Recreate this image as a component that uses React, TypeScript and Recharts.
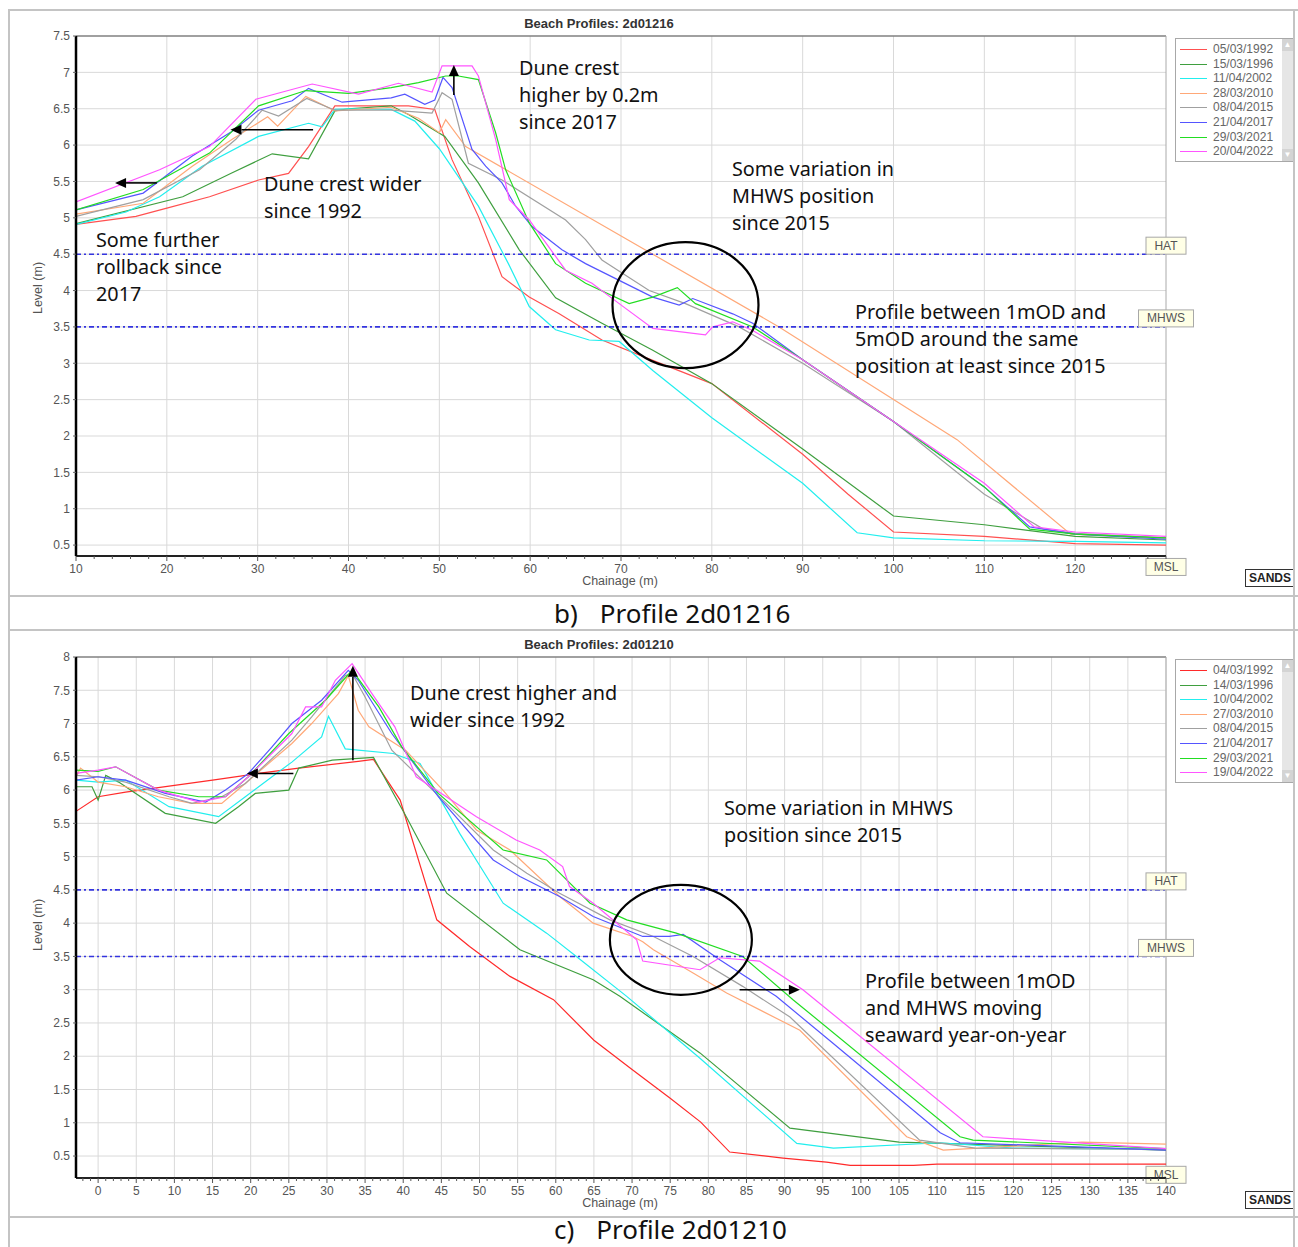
import React from "react";
import { LineChart, Line, XAxis, YAxis, CartesianGrid, ReferenceLine, ReferenceDot } from "recharts";

type Pt = [number, number];

// ---- b) Profile 2d01216 ----
const topDates = ["05/03/1992", "15/03/1996", "11/04/2002", "28/03/2010", "08/04/2015", "21/04/2017", "29/03/2021", "20/04/2022"];
const topColors = ["#ff5050", "#3f9f3f", "#22eeee", "#ffa878", "#a0a0a0", "#5555ff", "#22dd22", "#ff55ff"];

const top1992: Pt[] = [[10, 4.91], [16.6, 5.02], [19.9, 5.13], [24.7, 5.29], [30.1, 5.52], [33.4, 5.61], [35.6, 5.98], [38.5, 6.54], [46.6, 6.54], [49.5, 6.49], [51.4, 5.8], [54.3, 5.02], [56.9, 4.19], [59.9, 3.91], [63.2, 3.68], [67.9, 3.32], [73.5, 3.04], [80, 2.72], [90, 1.75], [95, 1.2], [100, 0.68], [110, 0.62], [120, 0.52], [130, 0.5]];
const top1996: Pt[] = [[10, 4.92], [21.75, 5.29], [27.2, 5.62], [31.6, 5.88], [35.6, 5.81], [38.5, 6.47], [40, 6.5], [44.7, 6.54], [46.6, 6.42], [50.6, 6.12], [54.3, 5.48], [58.8, 4.56], [62.8, 3.9], [67.9, 3.55], [73.5, 3.18], [80, 2.72], [90, 1.82], [100, 0.9], [110, 0.78], [120, 0.62], [130, 0.57]];
const top2002: Pt[] = [[10, 4.91], [15.5, 5.08], [19.2, 5.29], [23.9, 5.71], [30.1, 6.12], [35.6, 6.3], [37.1, 6.25], [38.5, 6.49], [40, 6.5], [44.7, 6.49], [47.3, 6.33], [50, 5.95], [54.3, 5.16], [57.6, 4.37], [59.9, 3.78], [62.8, 3.46], [66.5, 3.32], [69.8, 3.3], [73.5, 2.9], [80, 2.25], [90, 1.35], [96, 0.67], [100, 0.6], [110, 0.56], [120, 0.55], [130, 0.53]];
const top2010: Pt[] = [[10, 5.05], [17.4, 5.2], [22.8, 5.71], [27.2, 6.08], [31.1, 6.39], [32.2, 6.26], [35.3, 6.67], [38.5, 6.47], [44.7, 6.52], [47.7, 6.37], [50, 6.17], [50.7, 6.35], [52.9, 5.98], [87.4, 3.5], [107, 1.95], [119.5, 0.65], [125, 0.62], [130, 0.6]];
const top2015: Pt[] = [[10, 5.02], [17.4, 5.25], [23.6, 5.66], [27.6, 6.08], [30.5, 6.48], [32.3, 6.4], [35.4, 6.64], [38.5, 6.48], [44.7, 6.48], [49.2, 6.44], [50.3, 6.72], [51.4, 6.63], [53.2, 5.75], [56.9, 5.52], [63.9, 4.97], [66.1, 4.7], [67.9, 4.42], [73.1, 4.0], [77.1, 3.82], [83, 3.5], [90, 3.0], [100, 2.2], [110, 1.2], [116.5, 0.72], [120, 0.66], [130, 0.6]];
const top2017: Pt[] = [[10, 5.11], [17.4, 5.34], [22.8, 5.85], [27.2, 6.19], [30.1, 6.48], [33.8, 6.61], [35.6, 6.78], [39.3, 6.59], [44.7, 6.65], [46.2, 6.7], [48.4, 6.56], [49.5, 6.62], [50.4, 6.93], [51.4, 6.79], [53.6, 5.94], [55.1, 5.71], [56.9, 5.48], [58.4, 5.16], [60.2, 4.88], [63.5, 4.56], [66.1, 4.37], [69.8, 4.14], [73.5, 3.91], [76.4, 3.8], [77.9, 3.89], [82.3, 3.68], [84.5, 3.55], [90, 3.05], [100, 2.2], [110, 1.3], [115, 0.75], [120, 0.65], [130, 0.58]];
const top2021: Pt[] = [[10, 5.11], [17.4, 5.39], [24.7, 5.89], [30.1, 6.54], [35.3, 6.75], [40, 6.71], [44.7, 6.79], [47.7, 6.86], [50.7, 6.95], [52.1, 6.95], [54.3, 6.9], [56.2, 6.17], [57.3, 5.66], [59.9, 4.93], [62.8, 4.37], [66.1, 4.1], [70.9, 3.82], [73.5, 3.91], [76.2, 4.04], [78.2, 3.82], [84.5, 3.5], [90, 3.05], [100, 2.2], [110, 1.3], [115, 0.72], [120, 0.65], [130, 0.6]];
const top2022: Pt[] = [[10, 5.22], [19.2, 5.66], [24.7, 5.98], [29.8, 6.63], [36, 6.84], [41.1, 6.7], [45.5, 6.85], [49.2, 6.73], [50.3, 7.09], [53.6, 7.09], [54.3, 6.95], [56.2, 6.08], [57.7, 5.25], [59.9, 4.97], [63.9, 4.28], [66.8, 4.1], [69.8, 3.82], [73.5, 3.48], [79.3, 3.39], [80.1, 3.5], [82.3, 3.57], [84.5, 3.45], [90, 3.05], [100, 2.2], [110, 1.35], [115.5, 0.75], [120, 0.68], [130, 0.62]];
const topSeries = [top1992, top1996, top2002, top2010, top2015, top2017, top2021, top2022];

const topXTicks = [10, 20, 30, 40, 50, 60, 70, 80, 90, 100, 110, 120];
const topXMinor = Array.from({ length: 61 }, (_, i) => 10 + i * 2);
const topYTicks = [0.5, 1, 1.5, 2, 2.5, 3, 3.5, 4, 4.5, 5, 5.5, 6, 6.5, 7, 7.5];

// ---- c) Profile 2d01210 ----
const botDates = ["04/03/1992", "14/03/1996", "10/04/2002", "27/03/2010", "08/04/2015", "21/04/2017", "29/03/2021", "19/04/2022"];
const botColors = ["#ff2a2a", "#3f9f3f", "#22eeee", "#ffa878", "#a0a0a0", "#5555ff", "#22dd22", "#ff55ff"];

const bot1992: Pt[] = [[-2.9, 5.68], [0, 5.9], [3.6, 5.97], [15, 6.15], [21, 6.25], [26.3, 6.33], [34.1, 6.43], [36.1, 6.46], [39.6, 5.85], [44.4, 4.05], [48.7, 3.65], [54, 3.2], [59.7, 2.85], [65, 2.24], [70, 1.8], [75, 1.37], [79, 1.01], [82.8, 0.56], [89.8, 0.47], [95.5, 0.41], [98.6, 0.36], [106.9, 0.36], [110, 0.38], [140, 0.38]];
const bot1996: Pt[] = [[-2.9, 6.05], [-0.8, 6.05], [0, 5.85], [1, 6.22], [2.7, 6.12], [8.8, 5.65], [15.4, 5.5], [18.4, 5.75], [20.6, 5.95], [25, 6.0], [26.3, 6.33], [30.7, 6.45], [36.1, 6.49], [40.4, 5.6], [45.7, 4.45], [55.3, 3.6], [64.9, 3.15], [68.4, 2.9], [78.9, 2.05], [90.7, 0.92], [105, 0.71], [140, 0.59]];
const bot2002: Pt[] = [[-2.9, 6.15], [0, 6.12], [3.6, 6.15], [9.3, 5.75], [15.8, 5.6], [19.3, 5.9], [22.8, 6.2], [25.4, 6.42], [29.3, 6.8], [30.2, 7.11], [32.4, 6.62], [38.7, 6.55], [42.2, 6.4], [47.4, 5.35], [53.1, 4.3], [58.8, 3.85], [62.7, 3.5], [69.3, 2.9], [78.9, 1.97], [91.6, 0.69], [96.4, 0.62], [110.4, 0.7], [120, 0.62], [140, 0.6]];
const bot2010: Pt[] = [[-2.9, 6.2], [-2.3, 6.33], [0, 6.12], [3.6, 6.05], [7.9, 5.9], [12.3, 5.8], [16.2, 5.8], [19.3, 6.1], [25.4, 6.7], [28, 7.0], [31.5, 7.45], [32.8, 7.72], [34.1, 7.2], [35.5, 6.95], [40.3, 6.6], [45.2, 6.0], [49.6, 5.4], [54, 5.1], [60.5, 4.4], [64.9, 4.0], [70.1, 3.8], [71.4, 3.72], [72.8, 3.6], [78, 3.25], [82.4, 2.95], [92, 2.39], [106, 0.79], [110.8, 0.59], [120, 0.65], [129, 0.71], [140, 0.68]];
const bot2015: Pt[] = [[-2.9, 6.22], [0, 6.2], [3.6, 6.12], [9.3, 5.9], [12.3, 5.8], [16.2, 5.9], [19.3, 6.1], [25.4, 6.75], [28, 7.1], [32.4, 7.72], [33.3, 7.75], [35, 7.4], [38.5, 6.6], [45.2, 5.85], [51.8, 5.1], [56.2, 4.75], [60.5, 4.45], [67.1, 4.05], [72.8, 3.8], [78, 3.5], [84.5, 3.05], [90.7, 2.59], [107.7, 0.74], [115, 0.62], [140, 0.6]];
const bot2017: Pt[] = [[-2.9, 6.15], [0, 6.2], [3.6, 6.15], [8.8, 5.95], [14.1, 5.82], [16.7, 6.0], [19.7, 6.25], [22.8, 6.65], [25.4, 7.0], [29.3, 7.35], [32.8, 7.8], [34.1, 7.65], [38.5, 6.85], [44.6, 5.9], [51.8, 4.95], [55.3, 4.7], [60.5, 4.4], [64.9, 4.1], [71.4, 3.8], [74.9, 3.8], [76.7, 3.83], [81.5, 3.45], [88.9, 2.9], [96.3, 2.2], [110.4, 0.85], [113, 0.7], [140, 0.59]];
const bot2021: Pt[] = [[-2.9, 6.3], [0, 6.28], [2.3, 6.35], [7.9, 6.0], [13.2, 5.9], [16.7, 5.9], [19.7, 6.2], [25, 6.85], [29.8, 7.35], [33.3, 7.8], [36.8, 7.25], [39.8, 6.65], [44.6, 5.95], [53.1, 5.1], [58.8, 4.95], [64.5, 4.3], [69.3, 4.05], [75.8, 3.85], [84.5, 3.5], [91.1, 2.85], [113, 0.79], [114.7, 0.74], [140, 0.61]];
const bot2022: Pt[] = [[-2.9, 6.25], [0, 6.3], [2.3, 6.35], [7.9, 6.0], [13.2, 5.82], [16.7, 5.9], [19.7, 6.2], [25.4, 6.85], [27.2, 7.25], [29.3, 7.25], [31.1, 7.65], [33.3, 7.9], [35.9, 7.45], [38.9, 6.95], [41.7, 6.2], [49.6, 5.6], [54.8, 5.25], [57.9, 5.1], [60.9, 4.85], [61.8, 4.55], [64.9, 4.3], [70.6, 3.75], [71.4, 3.43], [78.9, 3.3], [81.5, 3.48], [86.7, 3.43], [92.4, 3.0], [116, 0.79], [140, 0.61]];
const botSeries = [bot1992, bot1996, bot2002, bot2010, bot2015, bot2017, bot2021, bot2022];

const botXTicks = [0, 5, 10, 15, 20, 25, 30, 35, 40, 45, 50, 55, 60, 65, 70, 75, 80, 85, 90, 95, 100, 105, 110, 115, 120, 125, 130, 135, 140];
const botXMinor = Array.from({ length: 143 }, (_, i) => i - 2);
const botYTicks = [0.5, 1, 1.5, 2, 2.5, 3, 3.5, 4, 4.5, 5, 5.5, 6, 6.5, 7, 7.5, 8];

const HAT = 4.5;
const MHWS = 3.5;
const MSL = 0;

const SANS = "'Liberation Sans', Arial, sans-serif";
const NOTE = "'Noto Sans', 'Open Sans', sans-serif";

const toRows = (pts: Pt[]) => pts.map(([x, y]) => ({ x, y }));

function Tag(props: any) {
  const { viewBox, text, w, dy = 0 } = props;
  const cx = viewBox.x + viewBox.width;
  const y = viewBox.y + dy;
  return (
    <g>
      <rect x={cx - w / 2} y={y - 17} width={w} height={17} fill="#ffffe6" stroke="#a8a8a8" />
      <text x={cx} y={y - 4.5} textAnchor="middle" fontSize={12} fill="#555" fontFamily={SANS}>
        {text}
      </text>
    </g>
  );
}

const arrow = (p: any) => {
  const { x1, y1, x2, y2 } = p;
  const a = Math.atan2(y2 - y1, x2 - x1);
  const L = 11;
  const W = 5;
  const bx = x2 - L * Math.cos(a);
  const by = y2 - L * Math.sin(a);
  const px = -Math.sin(a) * W;
  const py = Math.cos(a) * W;
  return (
    <g>
      <line x1={x1} y1={y1} x2={bx} y2={by} stroke="#000" strokeWidth={1.6} />
      <polygon points={`${x2},${y2} ${bx + px},${by + py} ${bx - px},${by - py}`} fill="#000" />
    </g>
  );
};

const ellipse = (rx: number, ry: number) => (p: any) => (
  <ellipse cx={p.cx} cy={p.cy} rx={rx} ry={ry} fill="none" stroke="#000" strokeWidth={2.2} />
);

// draws minor marks everywhere and labels only on the major chainages
const xTick = (majors: number[]) => (p: any) => {
  const { x, y, payload } = p;
  const major = majors.includes(payload.value);
  return (
    <g>
      <line x1={x} x2={x} y1={y} y2={y + (major ? 5 : 3)} stroke="#555" strokeWidth={1} />
      {major && (
        <text x={x} y={y + 17} textAnchor="middle" fontSize={12} fill="#555" fontFamily={SANS}>
          {payload.value}
        </text>
      )}
    </g>
  );
};

type Seg = { from: Pt; to: Pt };

function Profile(props: {
  top: number;
  mt: number;
  mb: number;
  xDomain: [number, number];
  yDomain: [number, number];
  xTicks: number[];
  xMinor: number[];
  yTicks: number[];
  series: Pt[][];
  colors: string[];
  arrows: Seg[];
  ring: { at: Pt; rx: number; ry: number };
  mslDy: number;
}) {
  const { top, mt, mb, xDomain, yDomain, xTicks, xMinor, yTicks, series, colors, arrows, ring, mslDy } = props;
  return (
    <div style={{ position: "absolute", left: 0, top }}>
      <LineChart width={1298} height={600} margin={{ top: mt, right: 132, bottom: mb, left: 36 }}>
        <CartesianGrid stroke="#d9d9d9" strokeWidth={1} verticalValues={xTicks} horizontalValues={yTicks} />
        <XAxis
          type="number"
          dataKey="x"
          domain={xDomain}
          ticks={xMinor}
          interval={0}
          allowDataOverflow
          height={30}
          tickSize={0}
          tickMargin={0}
          axisLine={{ stroke: "#222", strokeWidth: 2 }}
          tickLine={false}
          tick={xTick(xTicks)}
        />
        <YAxis
          type="number"
          dataKey="y"
          domain={yDomain}
          ticks={yTicks}
          interval={0}
          allowDataOverflow
          width={40}
          tickSize={3}
          tickMargin={3}
          axisLine={{ stroke: "#000", strokeWidth: 2.5 }}
          tickLine={{ stroke: "#666" }}
          tick={{ fontSize: 12, fill: "#555", fontFamily: SANS }}
        />
        <ReferenceLine y={yDomain[1]} stroke="#555" strokeWidth={1} />
        <ReferenceLine x={xDomain[1]} stroke="#aaa" strokeWidth={1} />
        {series.map((s, i) => (
          <Line
            key={i}
            data={toRows(s)}
            dataKey="y"
            type="linear"
            stroke={colors[i]}
            strokeWidth={1.2}
            dot={false}
            isAnimationActive={false}
          />
        ))}
        <ReferenceLine y={HAT} stroke="#3434e0" strokeWidth={1.6} strokeDasharray="5 3 2 3" label={<Tag text="HAT" w={40} />} />
        <ReferenceLine y={MHWS} stroke="#3434e0" strokeWidth={1.6} strokeDasharray="5 3 2 3" label={<Tag text="MHWS" w={55} />} />
        <ReferenceLine y={MSL} stroke="none" ifOverflow="visible" label={<Tag text="MSL" w={40} dy={mslDy} />} />
        {arrows.map((a, i) => (
          <ReferenceLine
            key={"a" + i}
            segment={[{ x: a.from[0], y: a.from[1] }, { x: a.to[0], y: a.to[1] }]}
            ifOverflow="visible"
            shape={arrow}
          />
        ))}
        <ReferenceDot x={ring.at[0]} y={ring.at[1]} ifOverflow="visible" shape={ellipse(ring.rx, ring.ry)} />
      </LineChart>
    </div>
  );
}

function LegendBox({ top, dates, colors }: { top: number; dates: string[]; colors: string[] }) {
  return (
    <div
      style={{
        position: "absolute",
        left: 1175,
        top,
        width: 119,
        height: 124,
        border: "1px solid #a8a8a8",
        background: "#fff",
        boxSizing: "border-box",
        overflow: "hidden",
      }}
    >
      {dates.map((d, i) => {
        const rowTop = Math.round(3 + i * 14.6);
        return (
          <div key={d}>
            <div style={{ position: "absolute", left: 4, top: rowTop + 7, width: 27, height: 1, background: colors[i] }} />
            <div style={{ position: "absolute", left: 37, top: rowTop, fontSize: 12, lineHeight: "15px", color: "#666", fontFamily: SANS, whiteSpace: "nowrap" }}>
              {d}
            </div>
          </div>
        );
      })}
      <div style={{ position: "absolute", right: 0, top: 0, width: 11, height: 122, background: "#e6e6e6" }}>
        <div style={{ height: 12, background: "#d4d4d4", color: "#fff", fontSize: 8, textAlign: "center", lineHeight: "12px" }}>▲</div>
        <div style={{ position: "absolute", bottom: 0, width: 11, height: 12, background: "#d4d4d4", color: "#fff", fontSize: 8, textAlign: "center", lineHeight: "12px" }}>▼</div>
      </div>
    </div>
  );
}

function Note({ x, y, lines }: { x: number; y: number; lines: string[] }) {
  return (
    <div style={{ position: "absolute", left: x, top: y, fontFamily: NOTE, fontSize: 19.8, lineHeight: "27px", color: "#111", whiteSpace: "nowrap" }}>
      {lines.map((l) => (
        <div key={l}>{l}</div>
      ))}
    </div>
  );
}

function Small({ x, y, text, bold, rotate }: { x: number; y: number; text: string; bold?: boolean; rotate?: boolean }) {
  return (
    <div
      style={{
        position: "absolute",
        left: x,
        top: y,
        transform: `translate(-50%, -50%)${rotate ? " rotate(-90deg)" : ""}`,
        fontFamily: SANS,
        fontSize: bold ? 13 : 12.5,
        fontWeight: bold ? 700 : 400,
        color: bold ? "#333" : "#555",
        whiteSpace: "nowrap",
      }}
    >
      {text}
    </div>
  );
}

function Sands({ y }: { y: number }) {
  return (
    <div style={{ position: "absolute", left: 1245, top: y, width: 48, height: 18, borderTop: "1px solid #333", borderLeft: "1px solid #333", borderBottom: "1px solid #333", boxSizing: "border-box", overflow: "hidden", fontFamily: SANS, fontSize: 12, fontWeight: 700, lineHeight: "16px", paddingLeft: 3, color: "#222", background: "#fff", whiteSpace: "nowrap" }}>
      SANDS
    </div>
  );
}

function Caption({ y, tag, text }: { y: number; tag: string; text: string }) {
  return (
    <div style={{ position: "absolute", left: 554, top: y, fontFamily: NOTE, fontSize: 26, lineHeight: "30px", color: "#111", whiteSpace: "nowrap" }}>
      <span>{tag}</span>
      <span style={{ marginLeft: 22 }}>{text}</span>
    </div>
  );
}

const hLine = (y: number) => <div style={{ position: "absolute", left: 8, top: y, width: 1290, height: 2, background: "#c4c4c4" }} />;
const vLine = (x: number) => <div style={{ position: "absolute", left: x, top: 9, width: 2, height: 1240, background: "#c4c4c4" }} />;

export default function App() {
  return (
    <div style={{ position: "absolute", left: 0, top: 0, width: 1298, height: 1247, background: "#fff", overflow: "hidden" }}>
      <Profile
        top={0}
        mt={36}
        mb={14}
        xDomain={[10, 130]}
        yDomain={[0.35, 7.5]}
        xTicks={topXTicks}
        xMinor={topXMinor}
        yTicks={topYTicks}
        series={topSeries}
        colors={topColors}
        arrows={[
          { from: [36.1, 6.21], to: [27.0, 6.21] },
          { from: [18.9, 5.48], to: [14.3, 5.48] },
          { from: [51.6, 6.69], to: [51.6, 7.1] },
        ]}
        ring={{ at: [77.1, 3.8], rx: 73, ry: 63 }}
        mslDy={-6}
      />
      <Profile
        top={620}
        mt={37}
        mb={12}
        xDomain={[-2.9, 140]}
        yDomain={[0.17, 8]}
        xTicks={botXTicks}
        xMinor={botXMinor}
        yTicks={botYTicks}
        series={botSeries}
        colors={botColors}
        arrows={[
          { from: [25.6, 6.25], to: [19.5, 6.25] },
          { from: [33.4, 6.45], to: [33.4, 7.87] },
          { from: [84.1, 3.0], to: [92.0, 3.0] },
        ]}
        ring={{ at: [76.4, 3.75], rx: 71, ry: 55 }}
        mslDy={-6}
      />

      <Small x={599} y={23} text="Beach Profiles: 2d01216" bold />
      <Small x={599} y={644} text="Beach Profiles: 2d01210" bold />
      <Small x={38} y={288} text="Level (m)" rotate />
      <Small x={38} y={925} text="Level (m)" rotate />
      <Small x={620} y={581} text="Chainage (m)" />
      <Small x={620} y={1203} text="Chainage (m)" />

      <LegendBox top={38} dates={topDates} colors={topColors} />
      <LegendBox top={659} dates={botDates} colors={botColors} />
      <Sands y={569} />
      <Sands y={1191} />

      <Note x={519} y={54} lines={["Dune crest", "higher by 0.2m", "since 2017"]} />
      <Note x={264} y={170} lines={["Dune crest wider", "since 1992"]} />
      <Note x={96} y={226} lines={["Some further", "rollback since", "2017"]} />
      <Note x={732} y={155} lines={["Some variation in", "MHWS position", "since 2015"]} />
      <Note x={855} y={298} lines={["Profile between 1mOD and", "5mOD around the same", "position at least since 2015"]} />
      <Note x={410} y={679} lines={["Dune crest higher and", "wider since 1992"]} />
      <Note x={724} y={794} lines={["Some variation in MHWS", "position since 2015"]} />
      <Note x={865} y={967} lines={["Profile between 1mOD", "and MHWS moving", "seaward year-on-year"]} />

      {hLine(9)}
      {hLine(595)}
      {hLine(629)}
      {hLine(1216)}
      {vLine(8)}
      {vLine(1293)}
      <Caption y={598} tag="b)" text="Profile 2d01216" />
      <Caption y={1214} tag="c)" text="Profile 2d01210" />
    </div>
  );
}
